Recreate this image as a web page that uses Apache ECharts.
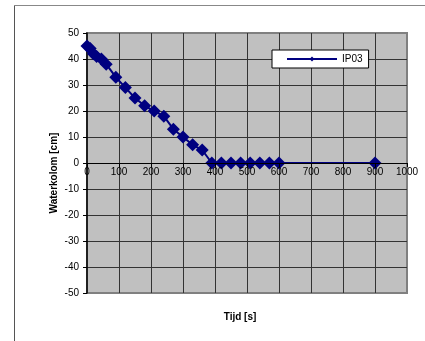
<!DOCTYPE html>
<html>
<head>
<meta charset="utf-8">
<script src="https://cdn.jsdelivr.net/npm/echarts@6/dist/echarts.min.js"></script>
<style>
html,body{margin:0;padding:0;background:#fff;}
#c{width:425px;height:341px;}
</style>
</head>
<body>
<div id="c"></div>
<script>
const seriesName = 'IP03';
const timeValues = [0, 10, 20, 30, 45, 60, 90, 120, 150, 180, 210, 240, 270, 300, 330, 360, 390, 420, 450, 480, 510, 540, 570, 600, 900];
const waterValues = [45, 44, 42, 41, 40, 38, 33, 29, 25, 22, 20, 18, 13, 10, 7, 5, 0, 0, 0, 0, 0, 0, 0, 0, 0];
const xTicks = [0, 100, 200, 300, 400, 500, 600, 700, 800, 900, 1000];
const yTicks = [-50, -40, -30, -20, -10, 0, 10, 20, 30, 40, 50];
const xTitle = 'Tijd [s]';
const yTitle = 'Waterkolom [cm]';

const points = timeValues.map((t, i) => [t, waterValues[i]]);
const font = 'Liberation Sans, Arial, sans-serif';
const xMin = xTicks[0], xMax = xTicks[xTicks.length - 1];

const chart = echarts.init(document.getElementById('c'), null, {renderer: 'canvas'});
chart.setOption({
  animation: false,
  backgroundColor: '#ffffff',
  graphic: [
    {type: 'line', shape: {x1: 14.5, y1: 5, x2: 14.5, y2: 341}, style: {stroke: '#555', lineWidth: 1}},
    {type: 'line', shape: {x1: 14, y1: 5.5, x2: 425, y2: 5.5}, style: {stroke: '#888', lineWidth: 1}}
  ],
  grid: {
    left: 87, right: 18, top: 33, bottom: 48,
    containLabel: false, outerBoundsMode: 'none',
    show: true, backgroundColor: '#c0c0c0', borderColor: '#808080', borderWidth: 2
  },
  legend: {
    data: [seriesName],
    left: 272, top: 50,
    backgroundColor: '#ffffff', borderColor: '#000', borderWidth: 1,
    padding: [4, 6, 4, 14],
    itemWidth: 50, itemHeight: 6, itemGap: 4,
    textStyle: {fontFamily: font, fontSize: 10, color: '#000'}
  },
  xAxis: [{
    type: 'value', min: xMin, max: xMax, interval: 100,
    position: 'bottom',
    name: xTitle, nameLocation: 'middle', nameGap: 19, nameMoveOverlap: false,
    nameTextStyle: {fontFamily: font, fontSize: 10, fontWeight: 'bold', color: '#000', padding: [0, 14, 0, 0]},
    axisLine: {show: false},
    axisTick: {show: false},
    axisLabel: {show: false},
    splitLine: {show: true, showMinLine: false, showMaxLine: false, lineStyle: {color: '#333', width: 1}}
  }, {
    type: 'value', min: xMin, max: xMax, interval: 100,
    position: 'bottom', offset: -130, z: 5,
    axisLine: {show: true, onZero: false, lineStyle: {color: '#000', width: 1}},
    axisTick: {show: true, length: 4, lineStyle: {color: '#000'}},
    axisLabel: {fontFamily: font, fontSize: 10, color: '#000', margin: 4, formatter: v => String(v)},
    splitLine: {show: false}
  }],
  yAxis: {
    type: 'value', min: yTicks[0], max: yTicks[yTicks.length - 1], interval: 10,
    name: yTitle, nameLocation: 'middle', nameGap: 28, nameRotate: 90, nameMoveOverlap: false,
    nameTextStyle: {fontFamily: font, fontSize: 10, fontWeight: 'bold', color: '#000', padding: [0, 20, 0, 0]},
    axisLine: {show: true, onZero: false, lineStyle: {color: '#000', width: 1.5}},
    axisTick: {show: true, length: 4, lineStyle: {color: '#000'}},
    axisLabel: {fontFamily: font, fontSize: 10, color: '#000', margin: 8, formatter: v => String(v)},
    splitLine: {show: true, showMinLine: false, showMaxLine: false, lineStyle: {color: '#333', width: 1}}
  },
  series: [{
    name: seriesName,
    type: 'line',
    xAxisIndex: 0,
    data: points,
    symbol: 'diamond',
    symbolSize: 13,
    lineStyle: {color: '#000080', width: 2},
    itemStyle: {color: '#000080', borderWidth: 0}
  }]
});
</script>
</body>
</html>
